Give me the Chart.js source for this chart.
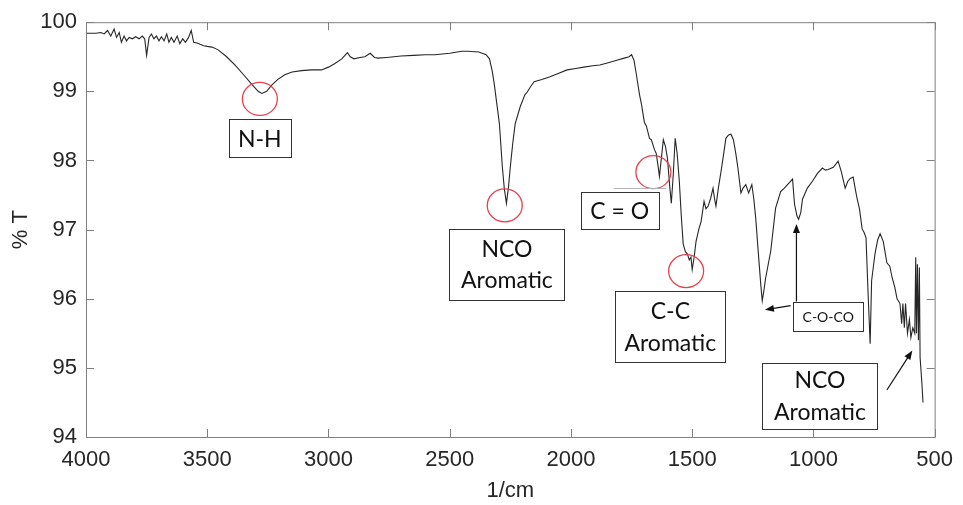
<!DOCTYPE html>
<html>
<head>
<meta charset="utf-8">
<script src="https://cdn.jsdelivr.net/npm/chart.js@4"></script>
<style>
  body { margin: 0; background: #fff; }
  canvas { display: block; }
</style>
</head>
<body>
<canvas id="ftir" width="963" height="505"></canvas>
<script>
// wavenumber (1/cm)
const wavenumbers = [
  4000, 3959, 3939, 3925, 3911, 3898, 3884, 3874, 3863, 3854,
  3843, 3833, 3822, 3809, 3795, 3781, 3768, 3758, 3750, 3740,
  3730, 3720, 3710, 3699, 3689, 3678, 3667, 3658, 3648, 3637,
  3624, 3613, 3601, 3590, 3577, 3566, 3556, 3542, 3529, 3515,
  3500, 3480, 3455, 3420, 3385, 3350,
  3316, 3290, 3275, 3255, 3234, 3210, 3180, 3150, 3111, 3070,
  3029, 3000, 2975, 2945, 2922, 2910, 2895, 2870, 2850, 2828,
  2810, 2795, 2760, 2701, 2650, 2600, 2561, 2500, 2450, 2426,
  2380, 2350, 2336, 2325, 2316, 2305, 2295, 2283, 2275, 2266,
  2258, 2250, 2240, 2230, 2209, 2190, 2180, 2168, 2152, 2120,
  2086, 2050, 2016, 1980, 1947, 1910, 1881, 1850, 1811, 1780,
  1760, 1750, 1740, 1730, 1717, 1709, 1697, 1689, 1676, 1668,
  1656, 1648, 1640, 1635, 1628, 1619, 1610, 1602, 1592, 1586,
  1578, 1570, 1562, 1553, 1545, 1537, 1528, 1520, 1512, 1505,
  1500, 1492, 1484, 1473, 1463, 1451, 1443, 1434, 1424, 1414,
  1408, 1402, 1392, 1381, 1370, 1361, 1350, 1340, 1330, 1320,
  1311, 1299, 1290, 1279, 1267, 1254, 1246, 1238, 1228, 1217,
  1211, 1205, 1197, 1176, 1156, 1135, 1120, 1102, 1086, 1078,
  1068, 1061, 1052, 1045, 1025, 1004, 984, 963, 950, 939,
  918, 898, 885, 869, 858, 848, 836, 828, 820, 810,
  799, 790, 783, 775, 766, 760, 746, 735, 725, 712,
  697, 685, 675, 664, 655, 643, 636, 631, 625, 620,
  612, 604, 598, 590, 582, 578, 575, 571, 567, 563,
  560, 553, 548
];

// % transmittance at each wavenumber
const transmittance = [
  99.84, 99.84, 99.85, 99.83, 99.88, 99.80, 99.90, 99.78, 99.85, 99.71,
  99.80, 99.73, 99.78, 99.76, 99.79, 99.76, 99.80, 99.76, 99.52, 99.78,
  99.83, 99.76, 99.80, 99.73, 99.79, 99.73, 99.83, 99.71, 99.78, 99.71,
  99.80, 99.69, 99.76, 99.71, 99.78, 99.88, 99.71, 99.70, 99.68, 99.66,
  99.65, 99.64, 99.60, 99.50, 99.38, 99.24,
  99.10, 99.00, 98.97, 99.00, 99.09, 99.17, 99.24, 99.28, 99.30, 99.31,
  99.31, 99.35, 99.40, 99.47, 99.56, 99.50, 99.47, 99.49, 99.50, 99.55,
  99.49, 99.48, 99.49, 99.51, 99.52, 99.53, 99.53, 99.55, 99.58, 99.58,
  99.57, 99.53, 99.47, 99.30, 99.10, 98.80, 98.53, 97.91, 97.60, 97.38,
  97.60, 97.91, 98.25, 98.53, 98.78, 98.95, 98.99, 99.06, 99.14, 99.17,
  99.21, 99.26, 99.31, 99.33, 99.35, 99.37, 99.38, 99.41, 99.45, 99.48,
  99.50, 99.53, 99.45, 99.24, 98.95, 98.81, 98.55, 98.50, 98.32, 98.30,
  98.16, 98.10, 97.90, 97.77, 98.00, 98.30, 98.20, 98.03, 97.60, 97.38,
  97.80, 98.32, 98.10, 97.70, 97.20, 96.79, 96.68, 96.65, 96.56, 96.60,
  96.42, 96.60, 96.83, 97.00, 97.12, 97.41, 97.30, 97.34, 97.45, 97.60,
  97.45, 97.34, 97.60, 97.84, 98.10, 98.32, 98.37, 98.38, 98.30, 98.10,
  97.88, 97.53, 97.60, 97.65, 97.53, 97.65, 97.45, 97.17, 96.70, 96.20,
  95.97, 96.10, 96.30, 96.69, 97.31, 97.55, 97.60, 97.67, 97.73, 97.37,
  97.20, 97.15, 97.25, 97.44, 97.60, 97.70, 97.81, 97.89, 97.86, 97.87,
  97.90, 97.99, 97.84, 97.60, 97.70, 97.74, 97.76, 97.60, 97.45, 97.30,
  97.01, 96.95, 96.88, 96.12, 95.35, 96.26, 96.65, 96.85, 96.94, 96.83,
  96.52, 96.47, 96.30, 96.16, 96.00, 95.93, 95.64, 95.93, 95.58, 95.93,
  95.50, 95.70, 95.44, 95.58, 95.50, 96.60, 95.50, 96.50, 95.40, 96.45,
  95.15, 94.80, 94.50
];

const xTicks = [4000, 3500, 3000, 2500, 2000, 1500, 1000, 500];
const yTicks = [94, 95, 96, 97, 98, 99, 100];

// band markers (wavenumber, %T)
const circleCenters = [[3283, 98.89], [2273, 97.35], [1660, 97.83], [1525, 96.40]];

// label boxes: text lines, centre in (wavenumber, %T), box size px, font px
const labelBoxes = [
  { lines: ['N-H'], at: [3283, 98.32], w: 62, h: 38, size: 23 },
  { lines: ['NCO', 'Aromatic'], at: [2264, 96.50], w: 115, h: 71, size: 23 },
  { lines: ['C = O'], at: [1799, 97.27], w: 78, h: 37, size: 23 },
  { lines: ['C-C', 'Aromatic'], at: [1590, 95.60], w: 110, h: 71, size: 23 },
  { lines: ['C-O-CO'], at: [939, 95.75], w: 70, h: 29, size: 14 },
  { lines: ['NCO', 'Aromatic'], at: [973, 94.60], w: 115, h: 66, size: 23 }
];

// arrows: from -> to, in (wavenumber, %T)
const arrows = [
  [[1094, 95.90], [1200, 95.84]],
  [[1070, 95.96], [1070, 97.08]],
  [[697, 94.68], [592, 95.25]]
];

const points = wavenumbers.map((w, i) => ({ x: w, y: transmittance[i] }));

function arrowLine(ctx, x1, y1, x2, y2) {
  const ang = Math.atan2(y2 - y1, x2 - x1);
  const len = 9, half = 3.5;
  ctx.beginPath();
  ctx.moveTo(x1, y1);
  ctx.lineTo(x2 - Math.cos(ang) * len * 0.8, y2 - Math.sin(ang) * len * 0.8);
  ctx.stroke();
  ctx.beginPath();
  ctx.moveTo(x2, y2);
  ctx.lineTo(x2 - len * Math.cos(ang) + half * Math.sin(ang), y2 - len * Math.sin(ang) - half * Math.cos(ang));
  ctx.lineTo(x2 - len * Math.cos(ang) - half * Math.sin(ang), y2 - len * Math.sin(ang) + half * Math.cos(ang));
  ctx.closePath();
  ctx.fill();
}

// Matlab style box with inward ticks on all sides
const framePlugin = {
  id: 'frame',
  afterDatasetsDraw(chart) {
    const { ctx, chartArea: a, scales: { x, y } } = chart;
    ctx.save();
    ctx.strokeStyle = '#808080';
    ctx.lineWidth = 1;
    ctx.strokeRect(a.left + 0.5, a.top + 0.5, a.right - a.left, a.bottom - a.top);
    ctx.beginPath();
    xTicks.forEach(v => {
      const px = Math.round(x.getPixelForValue(v)) + 0.5;
      ctx.moveTo(px, a.bottom); ctx.lineTo(px, a.bottom - 8);
      ctx.moveTo(px, a.top); ctx.lineTo(px, a.top + 8);
    });
    yTicks.forEach(v => {
      const py = Math.round(y.getPixelForValue(v)) + 0.5;
      ctx.moveTo(a.left, py); ctx.lineTo(a.left + 8, py);
      ctx.moveTo(a.right, py); ctx.lineTo(a.right - 8, py);
    });
    ctx.stroke();
    ctx.restore();
  }
};

const annotationPlugin = {
  id: 'bands',
  afterDraw(chart) {
    const { ctx, scales: { x, y } } = chart;
    ctx.save();

    ctx.strokeStyle = '#e8414c';
    ctx.lineWidth = 1.3;
    circleCenters.forEach(([w, t]) => {
      ctx.beginPath();
      ctx.ellipse(x.getPixelForValue(w), y.getPixelForValue(t), 17.5, 16.5, 0, 0, Math.PI * 2);
      ctx.stroke();
    });

    // stray guide line just above the C = O box
    ctx.strokeStyle = '#b5b5b5';
    ctx.lineWidth = 1;
    ctx.beginPath();
    ctx.moveTo(x.getPixelForValue(1824), Math.round(y.getPixelForValue(97.6)) + 0.5);
    ctx.lineTo(x.getPixelForValue(1607), Math.round(y.getPixelForValue(97.6)) + 0.5);
    ctx.stroke();

    labelBoxes.forEach(b => {
      const cx = x.getPixelForValue(b.at[0]);
      const cy = y.getPixelForValue(b.at[1]);
      const l = Math.round(cx - b.w / 2) + 0.5, t = Math.round(cy - b.h / 2) + 0.5;
      ctx.fillStyle = '#fff';
      ctx.fillRect(l, t, b.w, b.h);
      ctx.strokeStyle = '#333';
      ctx.lineWidth = 1;
      ctx.strokeRect(l, t, b.w, b.h);
      ctx.fillStyle = '#111';
      ctx.font = b.size + 'px Lato';
      ctx.textAlign = 'center';
      ctx.textBaseline = 'middle';
      const lh = b.size * 1.38;
      b.lines.forEach((s, i) => {
        ctx.fillText(s, cx, cy + (i - (b.lines.length - 1) / 2) * lh + 1);
      });
    });

    ctx.strokeStyle = '#111';
    ctx.fillStyle = '#111';
    ctx.lineWidth = 1.2;
    arrows.forEach(([from, to]) => {
      arrowLine(ctx, x.getPixelForValue(from[0]), y.getPixelForValue(from[1]),
        x.getPixelForValue(to[0]), y.getPixelForValue(to[1]));
    });
    ctx.restore();
  }
};

const tickFont = { family: 'Liberation Sans', size: 22 };

new Chart(document.getElementById('ftir'), {
  type: 'line',
  data: {
    datasets: [{
      data: points,
      borderColor: '#262626',
      borderWidth: 1.1,
      pointRadius: 0,
      tension: 0,
      fill: false
    }]
  },
  options: {
    responsive: false,
    animation: false,
    events: [],
    layout: { padding: { top: 20, right: 23, left: 0, bottom: 0 } },
    plugins: { legend: { display: false }, tooltip: { enabled: false } },
    scales: {
      x: {
        type: 'linear',
        reverse: true,
        min: 500,
        max: 4000,
        afterFit: s => { s.height = 68; },
        afterBuildTicks: s => { s.ticks = xTicks.map(v => ({ value: v })); },
        ticks: { font: tickFont, color: '#262626', padding: 10, maxRotation: 0, callback: v => String(v) },
        grid: { display: false, drawTicks: false },
        border: { display: false },
        title: { display: true, text: '1/cm', font: tickFont, color: '#262626', padding: { top: 0, bottom: 1 } }
      },
      y: {
        min: 94,
        max: 100,
        afterFit: s => { s.width = 86; },
        afterBuildTicks: s => { s.ticks = yTicks.map(v => ({ value: v })); },
        ticks: { font: tickFont, color: '#262626', padding: 9, callback: v => String(v) },
        grid: { display: false, drawTicks: false },
        border: { display: false },
        title: { display: true, text: '% T', font: tickFont, color: '#262626', padding: { top: 8, bottom: 0 } }
      }
    }
  },
  plugins: [framePlugin, annotationPlugin]
});
</script>
</body>
</html>
